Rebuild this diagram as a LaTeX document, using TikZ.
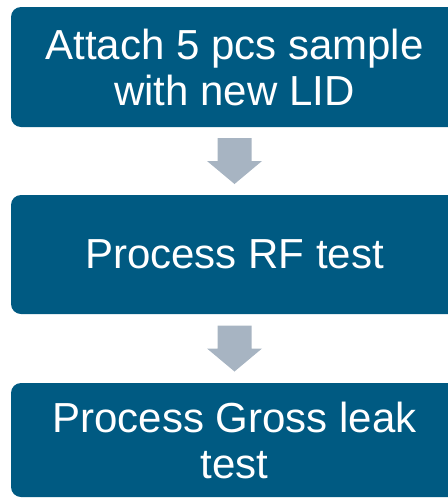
\documentclass[tikz,border=0pt]{standalone}
\usepackage{fontspec}
\setmainfont{Liberation Sans}
\usetikzlibrary{calc}
\definecolor{boxblue}{RGB}{0,90,130}
\definecolor{arrowgrey}{RGB}{167,180,194}
\tikzset{
  stepbox/.style={fill=boxblue, rounded corners=10pt, text=white, align=center,
    inner sep=0pt, minimum width=447pt,
    font=\fontsize{42}{46}\selectfont},
  blockarrow/.pic={\fill[arrowgrey] (-17,-23) -- (17,-23) -- (17,0) -- (27.5,0)
     -- (0,23) -- (-27.5,0) -- (-17,0) -- cycle;}
}
\begin{document}
\begin{tikzpicture}[x=1pt,y=-1pt]
\useasboundingbox (0,0) rectangle (448,499);
\clip (0,0) rectangle (448,499);
\node[stepbox, minimum height=120pt] (a) at (234.5,67) {Attach 5 pcs sample\\with new LID};
\node[stepbox, minimum height=119pt] (b) at (234.5,254.5) {Process RF test};
\node[stepbox, minimum height=114pt] (c) at (234.5,440) {Process Gross leak\\test};
\path (a.south) -- (b.north) coordinate[pos=0.5] (m1);
\path (b.south) -- (c.north) coordinate[pos=0.5] (m2);
\pic at (m1) {blockarrow};
\pic at (m2) {blockarrow};
\end{tikzpicture}
\end{document}
